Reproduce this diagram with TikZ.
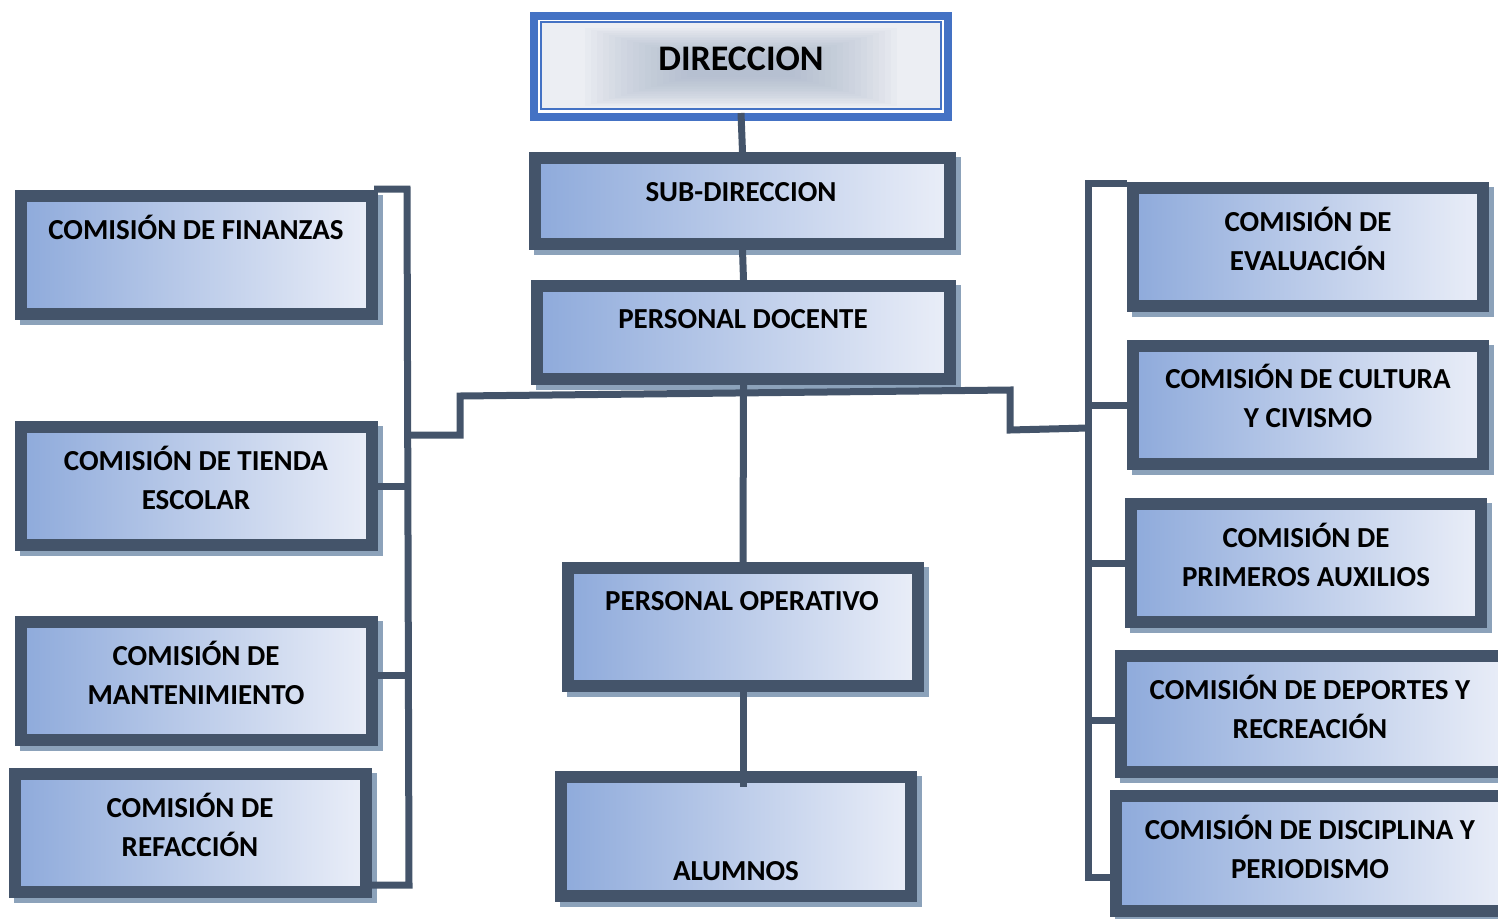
\documentclass[tikz,border=0pt]{standalone}
\usepackage{fontspec}
\setmainfont{Carlito}
\usetikzlibrary{shadows,calc}
\definecolor{dk}{HTML}{44546A}
\definecolor{sh}{HTML}{8CA2BA}
\definecolor{gl}{HTML}{8EAADB}
\definecolor{gr}{HTML}{EAEEF8}
\definecolor{bl}{HTML}{4472C4}
\definecolor{dfl}{HTML}{ECEEF3}
\definecolor{dgl}{HTML}{A3B1C7}
\tikzset{
  cbox/.style={draw=dk, line width=12pt, left color=gl, right color=gr, inner sep=0pt,
    general shadow={draw=sh, fill=sh, line width=12pt, shadow xshift=5pt, shadow yshift=-5pt}},
  conn/.style={draw=dk, line width=7pt},
  txt/.style={font=\bfseries\fontsize{29}{39}\selectfont, align=center, inner sep=0pt, anchor=base, text=black},
  bigtxt/.style={font=\bfseries\fontsize{36}{40}\selectfont, inner sep=0pt, anchor=base, text=black}
}
\newcommand\mkbox[5]{\node[cbox, minimum width={(#3-#2-12)*1pt}, minimum height={(#5-#4-12)*1pt}] (#1) at ({(#2+#3)/2},{(#4+#5)/2}) {};}
\begin{document}
\begin{tikzpicture}[x=1pt,y=-1pt]
\useasboundingbox (0,0) rectangle (1498,918);
% DIRECCION
\node[draw=bl, line width=8pt, fill=white, inner sep=0pt, minimum width=414pt, minimum height=101pt] (dir) at (741,66.5) {};
\fill[dfl] (542,23) rectangle (940,108);
\foreach \i in {0,...,17} {
  \fill[dgl, opacity=0.06] (585+\i*6, 28+\i*1.7) rectangle (897-\i*6, 106-\i*1.7);
}
\draw[bl, line width=2pt] (541,22) rectangle (941,109);
\node[bigtxt] (tdir) at (741,70) {DIRECCION};
% boxes
\mkbox{sub}{529}{956}{152}{250}
\mkbox{doc}{531}{956}{280}{385}
\mkbox{ope}{562}{924}{562}{692}
\mkbox{alu}{555}{917}{771}{902}
\mkbox{fin}{15}{378}{190}{320}
\mkbox{tie}{15}{378}{421}{551}
\mkbox{man}{15}{378}{616}{746}
\mkbox{ref}{9}{372}{768}{898}
\mkbox{eva}{1127}{1489}{182}{312}
\mkbox{cul}{1127}{1489}{340}{470}
\mkbox{pri}{1125}{1487}{498}{628}
\mkbox{dep}{1115}{1515}{650}{778}
\mkbox{dis}{1110}{1515}{790}{917}
% texts (base = last line)
\node[txt] (tsub) at (741,201) {SUB-DIRECCION};
\node[txt] (tdoc) at (743,328) {PERSONAL DOCENTE};
\node[txt] (tope) at (742,610) {PERSONAL OPERATIVO};
\node[txt] (talu) at (736,880) {ALUMNOS};
\node[txt] (tfin) at (196,239) {COMISIÓN DE FINANZAS};
\node[txt] (ttie) at (196,509) {COMISIÓN DE TIENDA\\ESCOLAR};
\node[txt] (tman) at (196,704) {COMISIÓN DE\\MANTENIMIENTO};
\node[txt] (tref) at (190,856) {COMISIÓN DE\\REFACCIÓN};
\node[txt] (teva) at (1308,270) {COMISIÓN DE\\EVALUACIÓN};
\node[txt] (tcul) at (1308,427) {COMISIÓN DE CULTURA\\Y CIVISMO};
\node[txt] (tpri) at (1306,586) {COMISIÓN DE\\PRIMEROS AUXILIOS};
\node[txt] (tdep) at (1310,738) {COMISIÓN DE DEPORTES Y\\RECREACIÓN};
\node[txt] (tdis) at (1310,878) {COMISIÓN DE DISCIPLINA Y\\PERIODISMO};
% connectors
\coordinate (hl) at (460,396);
\coordinate (hr) at (1010,390);
\coordinate (lt) at (407,189);
\coordinate (lb) at (409,885);
\coordinate (rt) at (1088,183);
\coordinate (rb) at (1088,877);
\draw[conn] ([yshift=8pt]dir.south) -- (sub.north);
\draw[conn] (sub.south) -- (doc.north);
\draw[conn] (doc.south) -- (ope.north);
\draw[conn] (ope.south) -- ([yshift=-16pt]ope.south |- alu.north);
\draw[conn] (lt |- 0,435) -- (460,435) -- (hl) -- (hr) -- (1010,430) -- (rt |- 0,428);
\draw[conn] ([xshift=-4pt]fin.north east |- lt) -- (lt) -- (lb) -- (ref.south east |- lb);
\draw[conn] (tie.east) -- (tie.east -| lt);
\draw[conn] ([yshift=6pt]man.east) -- ([yshift=6pt]man.east -| lt);
\draw[conn] (eva.north west |- rt) -- (rt) -- (rb) -- (rb -| dis.west);
\draw[conn] (cul.west -| rt) -- (cul.west);
\draw[conn] (pri.west -| rt) -- (pri.west);
\draw[conn] ([yshift=-6pt]dep.west -| rt) -- ([yshift=-6pt]dep.west);
\end{tikzpicture}
\end{document}
